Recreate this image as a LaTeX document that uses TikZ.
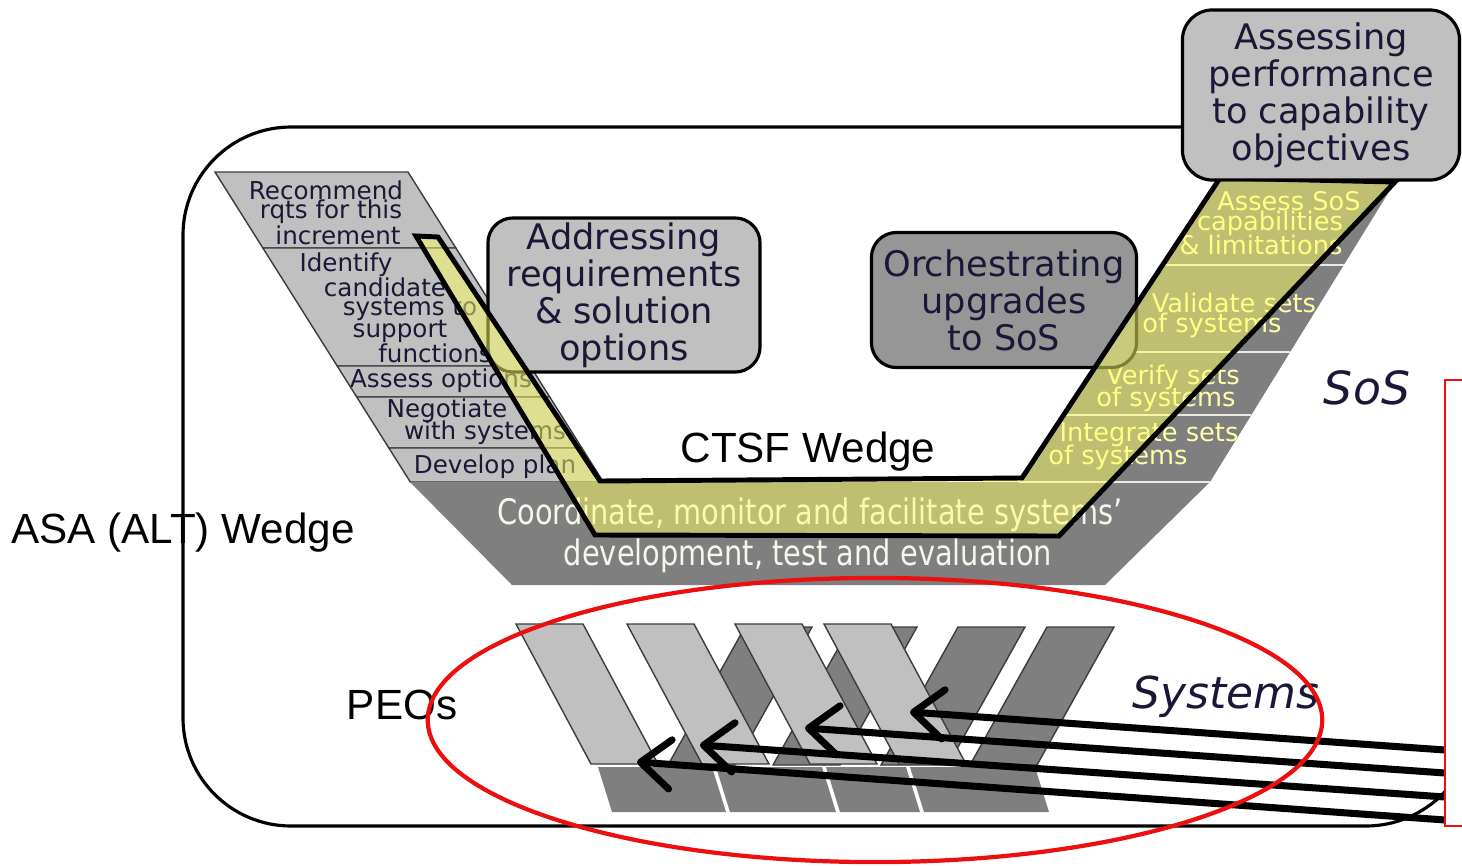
\documentclass[tikz,border=0pt]{standalone}
\usepackage{fontspec}
\usepackage{xcolor}
\usepackage{tikz}
\usetikzlibrary{shapes,arrows,positioning,calc,arrows.meta}
\setmainfont{DejaVu Sans}
\newfontfamily\arialfont{Liberation Sans}
\newfontfamily\narrowfont[FakeStretch=0.82]{DejaVu Sans}
\definecolor{wedgelight}{RGB}{192,192,192}
\definecolor{wedgedark}{RGB}{127,127,127}
\definecolor{wedgeedge}{RGB}{60,60,60}
\definecolor{orchgray}{RGB}{150,150,150}
\definecolor{bandyellow}{RGB}{255,255,102}
\definecolor{paleyellow}{RGB}{255,255,165}
\definecolor{offwhite}{RGB}{246,246,236}
\definecolor{sepwhite}{RGB}{235,235,225}
\definecolor{navytxt}{RGB}{25,25,55}
\definecolor{peored}{RGB}{235,15,15}

\begin{document}
\begin{tikzpicture}[x=0.01cm,y=-0.01cm,
    frame/.style={line width=0.9pt,rounded corners=1.08cm},
    wedgerow/.style={fill=wedgelight,draw=wedgeedge,line width=0.4pt},
    wedgedk/.style={fill=wedgedark},
    sepline/.style={draw=sepwhite,line width=0.6pt},
    lefttxt/.style={text=navytxt,font=\fontsize{7}{7}\selectfont,inner sep=0pt},
    righttxt/.style={text=paleyellow,font=\fontsize{7.3}{7.3}\selectfont,inner sep=0pt},
    bandtxt/.style={text=offwhite,font=\narrowfont\fontsize{10}{10}\selectfont,inner sep=0pt},
    ctsfband/.style={fill=bandyellow,fill opacity=0.5,draw=black,line width=1.4pt,line join=miter},
    procbox/.style={draw=black,line width=0.9pt,rounded corners=0.25cm,align=center,
        font=\fontsize{10}{10.5}\selectfont,inner sep=0pt,text=navytxt},
    syslight/.style={fill=wedgelight,draw=wedgeedge,line width=0.4pt},
    sysdark/.style={fill=wedgedark,draw=wedgeedge,line width=0.4pt},
    sysbase/.style={fill=wedgedark},
    labeltxt/.style={font=\arialfont\fontsize{12}{14}\selectfont,inner sep=0pt},
    layertxt/.style={font=\itshape\fontsize{13}{15}\selectfont,inner sep=0pt,text=navytxt},
    peoarrow/.style={line width=2pt,-{Straight Barb[length=8.5pt,width=14pt,round]}},
    peoring/.style={draw=peored,line width=1.2pt}
]
\useasboundingbox (0,0) rectangle (1462,866);

% outer frame
\draw[frame] (1200,127) -- (183,127) -- (183,826) -- (1474,826) -- (1474,700);

% left wedge
\foreach \ya/\yb in {172/248,248/366,366/397,397/448,448/482}
    \draw[wedgerow] ({215+0.63*(\ya-172)},\ya) -- ({408+0.63*(\ya-172)},\ya)
        -- ({408+0.63*(\yb-172)},\yb) -- ({215+0.63*(\yb-172)},\yb) -- cycle;

% right wedge and bottom band
\fill[wedgedk] (1217,182) -- (1395,182) -- (1210,482) -- (1105,585)
    -- (512,585) -- (410,482) -- (1019,482) -- cycle;
\foreach \y in {265,352,415,482}
    \draw[sepline] ({1220-0.66*(\y-178)},\y) -- ({1395-0.617*(\y-182)},\y);

% wedge texts
\foreach \x/\y/\t [count=\i] in {326/190/Recommend, 331/212/rqts for this,
    338/235/increment, 346/265/Identify, 385/287/candidate, 410/309/systems to,
    400/331/support, 435/353/functions, 441/381/Assess options,
    447/411/Negotiate, 485/433/with systems, 495/467/Develop plan}
    \node[lefttxt] (lw\i) at (\x,\y) {\t};
\foreach \x/\y/\t [count=\i] in {1289/201/Assess SoS, 1270/223/capabilities,
    1261/245/\& limitations, 1234/303/Validate sets, 1212/325/of systems,
    1173/377/Verify sets, 1166/399/of systems, 1149/435/Integrate sets,
    1118/457/of systems}
    \node[righttxt] (rw\i) at (\x,\y) {\t};
\node[bandtxt] (coord) at (810,515) {Coordinate, monitor and facilitate systems’};
\node[bandtxt] (devel) at (808,556) {development, test and evaluation};

% process boxes
\node[procbox,fill=wedgelight,minimum width=2.72cm,minimum height=1.54cm] (addr)
    at (624,295) {Addressing\\requirements\\\& solution\\options};
\node[procbox,fill=orchgray,minimum width=2.65cm,minimum height=1.35cm] (orch)
    at (1004,300) {Orchestrating\\upgrades\\to SoS};

% CTSF band
\draw[ctsfband] (416,236) -- (438,237) -- (600,481) -- (1022,478) -- (1220,178)
    -- (1395,182) -- (1059,536) -- (595,535) -- cycle;
\node[labeltxt] (ctsf) at (808,452) {CTSF Wedge};

\node[procbox,fill=wedgelight,rounded corners=0.3cm,minimum width=2.77cm,minimum height=1.7cm] (assess)
    at (1321,95) {Assessing\\performance\\to capability\\objectives};

% systems
\foreach \x in {745,850,958,1047}
    \draw[sysdark] (\x,627) -- (\x+67,627) -- (\x-10,765) -- (\x-77,765) -- cycle;
\foreach \x in {516,627,735,824}
    \draw[syslight] (\x,624) -- (\x+67,624) -- (\x+142,764) -- (\x+75,764) -- cycle;
\foreach \a/\b in {598/712,716/822,826/906,910/1035}
    \fill[sysbase] (\a,767) -- (\b,767) -- (\b+14,812) -- (\a+14,812) -- cycle;

% labels
\node[labeltxt] (asa) at (183,533) {ASA (ALT) Wedge};
\node[labeltxt] (peos) at (402,705) {PEOs};
\node[layertxt] (sos) at (1367,388) {SoS};
\node[layertxt,font=\itshape\fontsize{12.5}{15}\selectfont] (sys) at (1226,697) {Systems};

% arrows to systems
\coordinate (e1) at (1445,750);
\coordinate (e2) at (1445,773);
\coordinate (e3) at (1445,797);
\coordinate (e4) at (1445,820);
\coordinate (t1) at (910,712);
\coordinate (t2) at (805,728);
\coordinate (t3) at (700,745);
\coordinate (t4) at (637,762);
\foreach \i in {1,...,4}
    \draw[peoarrow] (e\i) -- (t\i);

\draw[peoring] (875,720) ellipse [x radius=4.47cm, y radius=1.42cm];
\draw[draw=peored,line width=0.6pt,fill=white] (1445,380) rectangle (1520,826);
\end{tikzpicture}
\end{document}
